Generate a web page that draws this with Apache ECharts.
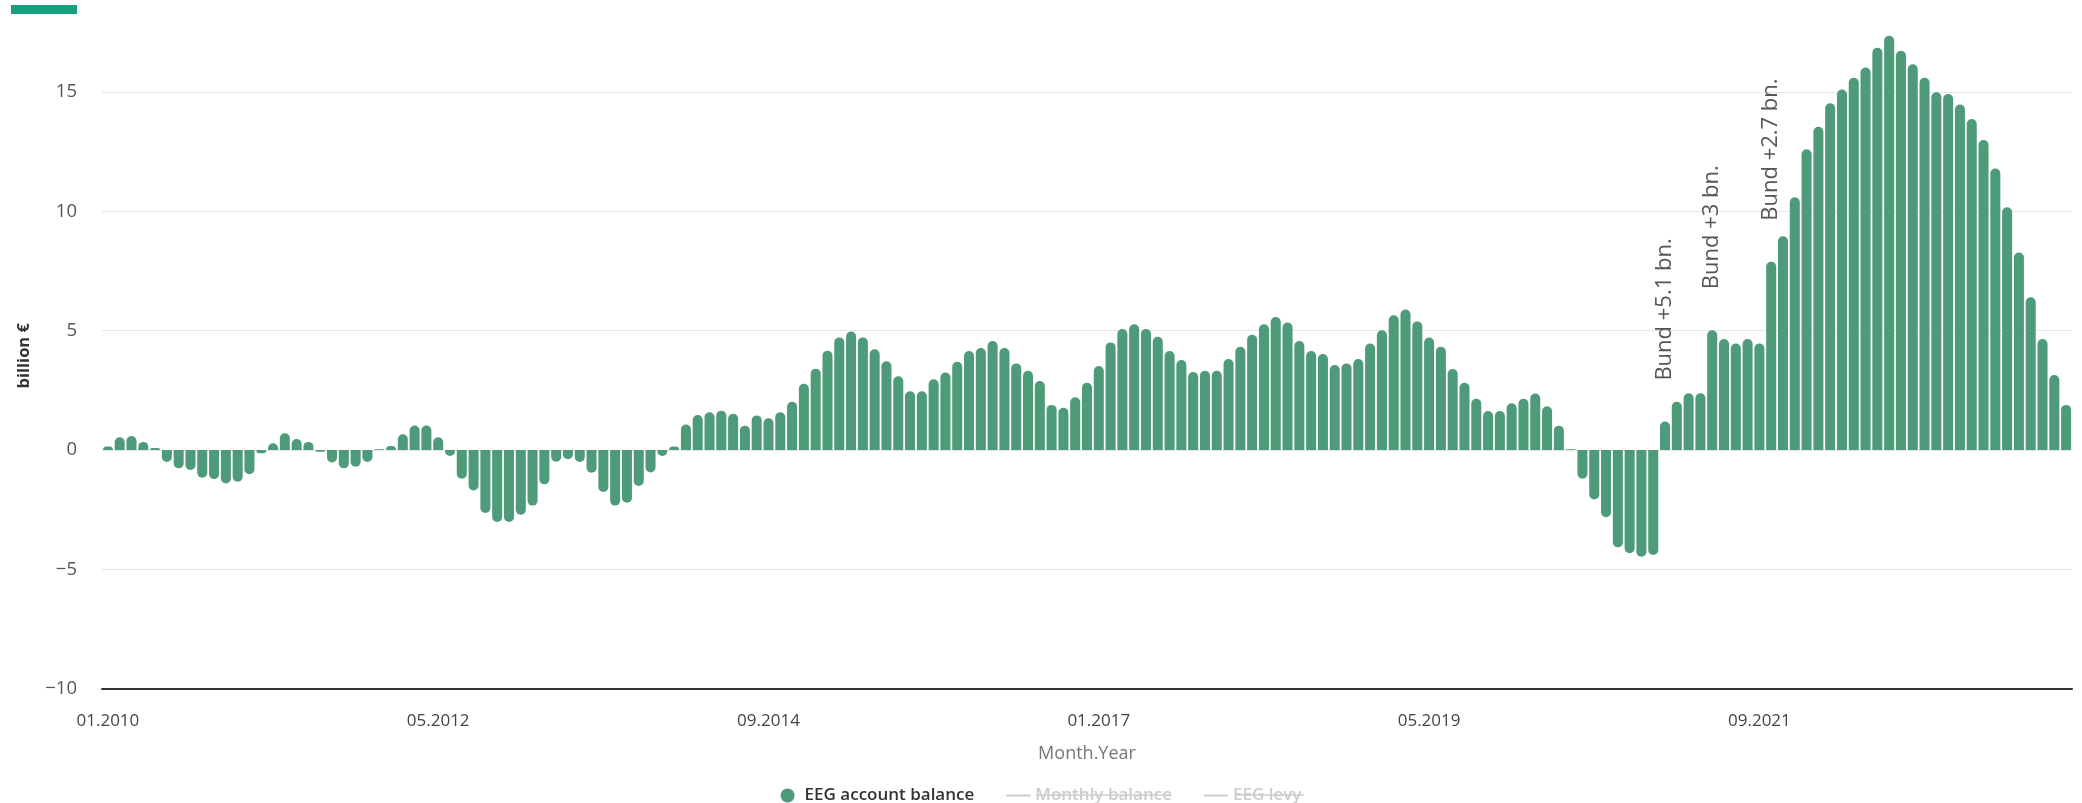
<!DOCTYPE html>
<html>
<head>
<meta charset="utf-8">
<script src="https://cdn.jsdelivr.net/npm/echarts@6/dist/echarts.min.js"></script>
<style>
html,body{margin:0;padding:0;background:#fff;}
#chart{width:2082px;height:803px;}
</style>
</head>
<body>
<div id="chart"></div>
<script>
// ---- data ----
const startYear = 2010, startMonth = 1, monthCount = 167;
const categories = [];
for (let k = 0; k < monthCount; k++) {
  const m = (startMonth - 1 + k) % 12 + 1;
  const y = startYear + Math.floor((startMonth - 1 + k) / 12);
  categories.push((m < 10 ? '0' + m : '' + m) + '.' + y);
}
const accountBalance = [
  0.15, 0.53, 0.59, 0.34, 0.08, -0.50, -0.77, -0.84, -1.16, -1.22, -1.40, -1.33,
  -1.02, -0.14, 0.28, 0.70, 0.46, 0.34, -0.07, -0.52, -0.77, -0.70, -0.50, 0.03,
  0.17, 0.66, 1.03, 1.03, 0.53, -0.25, -1.20, -1.70, -2.64, -3.02, -3.02, -2.71,
  -2.33, -1.44, -0.49, -0.39, -0.50, -0.95, -1.76, -2.33, -2.21, -1.51, -0.94, -0.25,
  0.15, 1.07, 1.47, 1.58, 1.65, 1.52, 1.02, 1.45, 1.33, 1.58, 2.02, 2.78,
  3.41, 4.16, 4.72, 4.97, 4.72, 4.22, 3.72, 3.09, 2.46, 2.46, 2.96, 3.25,
  3.70, 4.15, 4.27, 4.57, 4.27, 3.63, 3.32, 2.89, 1.89, 1.77, 2.21, 2.82,
  3.52, 4.51, 5.07, 5.27, 5.07, 4.75, 4.15, 3.77, 3.27, 3.32, 3.32, 3.81,
  4.33, 4.83, 5.27, 5.57, 5.34, 4.57, 4.15, 4.02, 3.56, 3.63, 3.81, 4.46,
  5.02, 5.65, 5.89, 5.39, 4.71, 4.33, 3.39, 2.82, 2.15, 1.63, 1.63, 1.96,
  2.15, 2.37, 1.83, 1.02, 0.03, -1.20, -2.07, -2.82, -4.08, -4.33, -4.47, -4.40,
  1.19, 2.02, 2.38, 2.38, 5.02, 4.65, 4.46, 4.65, 4.46, 7.89, 8.96, 10.59,
  12.60, 13.55, 14.53, 15.11, 15.60, 16.03, 16.86, 17.36, 16.73, 16.17, 15.60, 14.99,
  14.92, 14.48, 13.87, 12.99, 11.80, 10.17, 8.28, 6.40, 4.65, 3.14, 1.89
];
const annotationIndex = [132, 136, 141];
const annotationText = ['Bund +5.1 bn.', 'Bund +3 bn.', 'Bund +2.7 bn.'];
const seriesNames = ['EEG account balance', 'Monthly balance', 'EEG levy'];
const yTicks = { min: -10, max: 17.9, interval: 5 };

// ---- chart ----
const FONT = 'Open Sans';
const barColor = '#4e9b7a';
const barData = accountBalance.map((v, i) => {
  const item = {
    value: v,
    itemStyle: { borderRadius: v >= 0 ? [5, 5, 0, 0] : [0, 0, 5, 5] }
  };
  const a = annotationIndex.indexOf(i);
  if (a >= 0) {
    item.label = {
      show: true, position: 'top', rotate: 90, align: 'left', verticalAlign: 'middle',
      distance: 41, formatter: annotationText[a], color: '#555', fontSize: 22, fontFamily: FONT
    };
  }
  return item;
});

const lineIcon = 'path://M0 0H24V2H0Z';
const chart = echarts.init(document.getElementById('chart'), null, { renderer: 'canvas' });
chart.setOption({
  animation: false,
  backgroundColor: '#fff',
  textStyle: { fontFamily: FONT },
  grid: { left: 102, right: 10, top: 22.9, bottom: 114.4, containLabel: false },
  legend: {
    top: 782, left: 'center',
    itemWidth: 24, itemHeight: 14, itemGap: 32,
    symbolKeepAspect: true,
    textStyle: { fontSize: 17, color: '#333', fontFamily: FONT, fontWeight: 600 },
    inactiveColor: '#cccccc',
    selected: { 'Monthly balance': false, 'EEG levy': false },
    data: [
      { name: seriesNames[0], icon: 'circle' },
      { name: seriesNames[1], icon: lineIcon },
      { name: seriesNames[2], icon: lineIcon }
    ]
  },
  xAxis: {
    type: 'category',
    data: categories,
    boundaryGap: true,
    name: 'Month.Year',
    nameLocation: 'middle',
    nameGap: 56,
    nameTextStyle: { color: '#777', fontSize: 18, fontFamily: FONT },
    axisLine: { onZero: false, lineStyle: { color: '#333', width: 2 } },
    axisTick: { show: false },
    axisLabel: { interval: 27, color: '#444', fontSize: 17, margin: 24, fontFamily: FONT },
    splitLine: { show: false }
  },
  yAxis: {
    type: 'value',
    min: yTicks.min, max: yTicks.max, interval: yTicks.interval,
    name: 'billion €',
    nameLocation: 'middle',
    nameGap: 69,
    nameTextStyle: { color: '#333', fontSize: 16.5, fontWeight: 'bold', fontFamily: FONT },
    axisLine: { show: false },
    axisTick: { show: false },
    axisLabel: {
      color: '#555', fontSize: 18.5, margin: 25, fontFamily: FONT, showMaxLabel: false,
      formatter: v => String(v).replace('-', '\u2212')
    },
    splitLine: {
      lineStyle: {
        color: ['#e6e6e6', '#e6e6e6', '#e6e6e6', '#e6e6e6', '#e6e6e6', '#e6e6e6', 'rgba(0,0,0,0)'],
        width: 1
      }
    }
  },
  graphic: [
    { type: 'rect', left: 11, top: 5, shape: { width: 66, height: 9 }, style: { fill: '#17a07f' } },
    { type: 'line', shape: { x1: 1036, y1: 795, x2: 1171, y2: 795 }, style: { stroke: '#cccccc', lineWidth: 1.5 } },
    { type: 'line', shape: { x1: 1235, y1: 795, x2: 1304, y2: 795 }, style: { stroke: '#cccccc', lineWidth: 1.5 } }
  ],
  series: [
    {
      name: seriesNames[0], type: 'bar', data: barData,
      barCategoryGap: '15%',
      itemStyle: { color: barColor }
    },
    { name: seriesNames[1], type: 'line', data: [], symbol: 'none', lineStyle: { color: '#999', width: 2 } },
    { name: seriesNames[2], type: 'line', data: [], symbol: 'none', lineStyle: { color: '#999', width: 2 } }
  ]
});
</script>
</body>
</html>
